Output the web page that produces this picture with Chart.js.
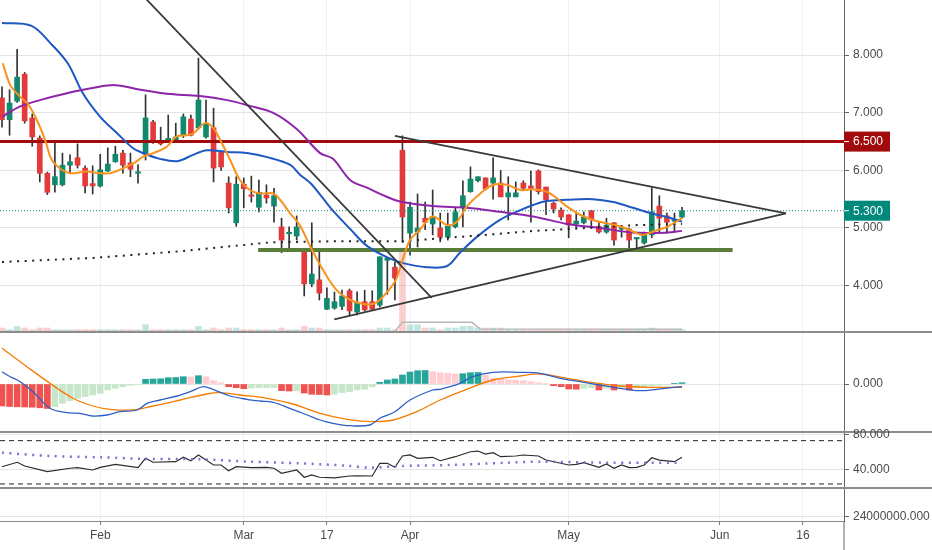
<!DOCTYPE html>
<html lang="en">
<head>
    <meta charset="UTF-8">
    <title>Price, MACD and RSI</title>
    <script src="https://cdn.jsdelivr.net/npm/chart.js"></script>
    <style>
        body {
            margin: 0;
            background: #ffffff;
        }
        #wrap {
            position: relative;
            width: 932px;
            height: 550px;
            overflow: hidden;
        }
        canvas {
            display: block;
            position: absolute;
            left: 0;
        }
        #mainChart { top: 0; }
        #macdChart { top: 333px; }
        #rsiChart  { top: 423px; }
        #volChart  { top: 489px; }
    </style>
</head>
<body>
    <div id="wrap">
        <canvas id="mainChart" width="932" height="333"></canvas>
        <canvas id="macdChart" width="932" height="100"></canvas>
        <canvas id="rsiChart" width="932" height="66"></canvas>
        <canvas id="volChart" width="932" height="61"></canvas>
    </div>

    <script>
        // daily candles, one per trading day (index 0 = first visible bar)
        const opens  = [7.26,6.88,7.20,7.67,6.91,6.56,5.95,5.75,5.75,6.09, 6.22,6.04,5.77,5.73,5.99,6.15,6.30,6.13,5.95,6.28,
                        6.84,6.49,6.53,6.53,6.61,6.89,6.74,6.58,6.74,6.32, 5.78,5.09,5.76,5.56,5.36,5.57,5.38,5.02,4.90,4.86,
                        4.58,4.03,4.10,3.59,3.61,3.64,3.91,3.54,3.72,3.72, 3.66,4.44,4.32,6.35,4.91,4.93,5.17,5.07,5.00,4.84,
                        5.02,5.36,5.63,5.82,5.87,5.78,5.78,5.54,5.54,5.78, 5.73,5.99,5.71,5.43,5.31,5.23,5.07,5.09,5.30,5.03,
                        4.93,5.09,4.98,4.98,4.81,4.74,4.88,5.38,5.21,5.12, 5.19];
        const highs  = [7.45,7.40,8.10,7.70,6.98,6.60,5.97,6.48,6.30,6.27, 6.46,6.08,6.08,6.28,6.39,6.42,6.35,6.30,6.10,7.31,
                        6.87,6.75,6.96,6.82,6.98,6.96,7.95,7.22,7.08,6.32, 5.89,5.89,5.87,5.90,5.83,5.75,5.69,5.17,5.02,5.21,
                        4.58,5.09,4.63,3.96,3.89,3.92,3.94,3.89,3.92,3.91, 4.50,4.48,4.41,6.60,5.45,5.59,5.45,5.66,5.26,5.26,
                        5.36,5.82,6.06,5.89,5.87,6.22,6.00,5.89,5.80,5.82, 5.99,6.01,5.71,5.45,5.35,5.23,5.26,5.28,5.31,5.09,
                        5.17,5.10,5.03,5.00,4.83,4.93,5.70,5.56,5.26,5.26, 5.36];
        const lows   = [6.75,6.61,7.18,6.82,6.42,5.80,5.58,5.62,5.73,5.95, 6.04,5.61,5.59,5.71,5.98,6.14,5.95,5.89,5.78,6.18,
                        6.47,6.44,6.52,6.52,6.57,6.60,6.72,6.56,5.80,6.00, 5.26,5.03,5.35,5.45,5.28,5.43,5.10,4.57,4.65,4.79,
                        3.82,3.98,3.75,3.58,3.59,3.58,3.49,3.49,3.56,3.58, 3.63,3.85,3.75,4.75,4.53,4.67,4.97,4.88,4.76,4.79,
                        5.00,5.02,5.62,5.80,5.66,5.50,5.54,5.14,5.54,5.66, 5.10,5.59,5.23,5.26,5.14,4.83,5.00,5.07,5.00,4.91,
                        4.91,4.70,4.84,4.62,4.65,4.72,4.83,4.93,4.91,4.93, 5.17];
        const closes = [6.88,7.17,7.62,6.86,6.58,5.95,5.62,5.89,6.09,6.15, 6.09,5.73,5.73,6.01,6.11,6.28,6.09,6.02,5.96,6.91,
                        6.49,6.46,6.55,6.58,6.93,6.61,7.22,6.82,6.04,6.06, 5.35,5.76,5.68,5.55,5.62,5.52,5.56,4.79,4.91,5.02,
                        4.03,4.20,3.87,3.78,3.72,3.82,3.56,3.70,3.58,3.59, 4.50,4.48,4.13,5.19,5.36,5.00,5.10,5.20,4.84,5.03,
                        5.28,5.56,5.85,5.89,5.68,5.87,5.54,5.61,5.61,5.69, 5.69,5.63,5.49,5.33,5.19,5.05,5.12,5.19,5.14,4.93,
                        5.05,4.79,5.00,4.79,4.83,4.91,5.28,5.17,5.10,5.13, 5.30];
        const volumes = [3,2,4,3,2,3,3,2,2,2, 2,2,2,2,2,2,2,2,2,5, 2,2,2,2,2,2,4,2,3,2, 3,3,2,2,2,2,2,3,2,2,
                         4,3,3,2,2,2,2,2,2,2, 3,3,2,51,5,5,3,3,2,3, 3,4,4,3,3,3,3,2,2,2, 2,2,2,2,2,2,2,2,2,2,
                         2,2,2,2,2,2,3,2,2,2, 2];
        const volMaX = [0, 52, 53, 62.2, 63.3, 90];
        const volMaY = [0.9, 0.9, 6.4, 6.4, 2.4, 2.2];

        // moving averages (bar index, price)
        const fastX = [0.1,1.1,2.4,3.5,4.6,5.7,6.6,7.9,9.0,11.2,13.0,14.3,15.6,17.4,18.7,20.0,21.8,23.1,24.4,25.3,
                       26.9,28.0,29.1,30.2,31.5,32.8,34.1,35.9,36.8,38.1,39.4,40.8,42.5,44.3,46.1,47.8,49.0,50.0,52.0,53.1,
                       54.0,55.3,57.0,58.9,60.2,61.5,63.3,65.0,66.8,68.6,70.3,72.1,73.4,74.8,76.5,78.2,80.1,81.8,83.5,84.8,
                       86.2,88.0,90.0];
        const fastY = [7.86,7.48,7.28,7.14,6.88,6.53,6.18,6.01,5.95,5.98,5.95,5.95,6.01,6.12,6.24,6.30,6.41,6.59,6.61,6.64,
                       6.82,6.73,6.47,6.18,5.83,5.66,5.60,5.60,5.49,5.26,5.05,4.68,4.27,3.92,3.75,3.68,3.68,3.75,4.07,4.48,
                       4.79,4.97,5.20,5.05,5.11,5.37,5.60,5.75,5.75,5.66,5.67,5.63,5.52,5.37,5.23,5.14,5.08,5.03,4.94,4.88,
                       4.94,5.02,5.17];
        const midX = [0,3.9,6.4,8.7,10.7,13,15.2,17.3,18.7,20.9,23.2,25.3,27.1,29.8,32.4,35.1,38.1,39.4,40.8,42.1,
                      43.8,46.1,48.3,51.0,53.1,56.2,58.9,60.6,62.9,65.9,68.6,70.3,72.1,74.8,78.2,80.9,83.5,85.8,88.0,90.0];
        const midY = [8.56,8.51,8.21,7.86,7.34,6.93,6.65,6.39,6.30,6.20,6.16,6.27,6.35,6.32,6.30,6.23,6.10,5.93,5.78,5.58,
                      5.30,4.98,4.69,4.49,4.39,4.32,4.34,4.57,4.85,5.14,5.31,5.40,5.47,5.49,5.50,5.45,5.35,5.26,5.19,5.11];
        const slowX = [0,2.4,5,8.6,12,15,18.3,21.8,26.2,29.8,32.8,35.9,39.0,42.1,43.8,46.1,48.3,50.4,52.7,57,
                       61.5,65.9,70.3,74.8,79.1,83.5,88,90];
        const slowY = [6.93,7.11,7.22,7.34,7.43,7.48,7.40,7.33,7.29,7.22,7.12,7.00,6.72,6.30,6.20,5.83,5.70,5.57,5.46,5.38,
                       5.35,5.28,5.20,5.07,5.00,4.92,4.92,4.95];
        const longX = [0,12,24,35.5,44,53,61,66.8,70.3,74.8,84,90];
        const longY = [4.41,4.48,4.60,4.75,4.77,4.77,4.85,4.91,4.95,4.98,5.05,5.07];

        // drawn levels and trend lines (bar index, price)
        const resistLevel = 6.5;
        const lastPrice = 5.3;
        const supportLevel = 4.62;
        const supportSpan = [33.9, 96.7];
        const downTrend = [[17, 9.26], [56.87, 3.785]];
        const wedgeTop = [[52.0, 6.60], [103.76, 5.255]];
        const wedgeBottom = [[43.98, 3.415], [103.76, 5.255]];

        // MACD
        const macdX = [0,1.1,2.4,4.1,6.35,8.6,10.3,12,13.9,15.6,17.9,19.2,20.9,23.2,24.9,26.6,27.9,30.2,32.4,34.1,
                       35.9,38.1,40.4,42.1,43.8,46.1,48.7,50,52,54,57,58,59.3,60.6,62.3,65,68.6,71.2,73.9,76.5,
                       79.1,81.8,84.4,86.7,88.8,90];
        const macdY = [0.123,0.073,0.023,-0.077,-0.243,-0.287,-0.293,-0.32,-0.31,-0.277,-0.26,-0.193,-0.16,-0.12,-0.077,-0.027,-0.053,-0.12,-0.153,-0.17,
                       -0.183,-0.243,-0.31,-0.36,-0.393,-0.417,-0.41,-0.343,-0.277,-0.16,-0.06,-0.053,-0.027,0.007,0.073,0.117,0.117,0.107,0.057,0.023,
                       -0.01,-0.043,-0.067,-0.053,-0.033,-0.027];
        const signalX = [0,3.3,6.35,9.4,12,14.3,17.3,20,23.6,27.1,28.8,31.5,35.1,38.5,42.1,45.7,49.1,51.8,54.9,58,
                         61.5,65,68.6,71.2,74.8,78.2,81.8,85.4,90];
        const signalY = [0.357,0.173,0.007,-0.143,-0.22,-0.253,-0.26,-0.22,-0.16,-0.10,-0.087,-0.11,-0.143,-0.20,-0.293,-0.353,-0.377,-0.36,-0.277,-0.16,
                         -0.053,0.04,0.08,0.10,0.057,0.013,-0.02,-0.033,-0.033];
        const macdHist = [-0.22,-0.225,-0.228,-0.23,-0.232,-0.238,-0.245,-0.228,-0.193,-0.167,
                          -0.143,-0.127,-0.11,-0.093,-0.06,-0.043,-0.027,-0.013,-0.003,0.047,
                          0.05,0.052,0.063,0.065,0.073,0.07,0.083,0.073,0.033,0.013,
                          -0.027,-0.037,-0.047,-0.04,-0.037,-0.036,-0.035,-0.067,-0.07,-0.068,
                          -0.09,-0.103,-0.105,-0.11,-0.103,-0.087,-0.077,-0.06,-0.053,-0.027,
                          0.017,0.04,0.05,0.09,0.12,0.133,0.135,0.123,0.113,0.107,
                          0.10,0.103,0.113,0.115,0.09,0.057,0.047,0.04,0.038,0.033,
                          0.023,0.013,0.005,-0.017,-0.027,-0.05,-0.052,-0.043,-0.037,-0.06,
                          -0.043,-0.06,-0.033,-0.06,-0.033,-0.027,-0.02,-0.013,-0.01,0.007,
                          0.013];

        // RSI
        const rsiX = [0,2,3,6,9,10,12,13,15,18,19,20,23,24,25,26,28,29,30,31,33,35,36,37,39,40,41,42,44,46,
                      47,49,50,51,52,53,54,55,57,58,60,62,63,64,65,66,68,69,71,72,75,76,77,79,80,81,82,83,84,85,
                      86,87,89,90];
        const rsiY = [43.0,48.2,43.8,37.2,41.2,41.9,39.2,42.3,45.8,41.9,52.8,48.2,48.9,54.0,50.0,56.7,45.0,45.0,38.4,43.0,
                      41.9,42.3,41.2,35.3,39.2,30.7,33.4,30.7,29.9,32.2,32.5,32.2,47.0,47.0,42.3,55.5,56.7,52.8,54.0,50.0,
                      54.7,60.5,61.3,57.8,59.4,54.7,55.5,56.7,55.5,50.8,45.0,45.8,47.7,42.3,46.2,41.2,45.0,41.9,42.3,45.0,
                      53.5,50.8,48.9,54.0];
        const rsiMaX = [0,6.4,13,19.6,26.2,32.8,39.4,45.6,48.7,52.7,59.3,66.8,71.2,80.0,90];
        const rsiMaY = [59.4,55.5,54.0,52.0,51.7,48.9,47.0,44.2,41.9,43.8,45.0,47.7,48.9,47.7,47.7];
        const rsiBands = [73.4, 22.9];

        // axes
        const tickIdx = [13, 32, 43, 54, 75, 95, 106];
        const tickLbl = ['Feb', 'Mar', '17', 'Apr', 'May', 'Jun', '16'];
        const priceTicks = [4, 5, 6, 7, 8];
        const macdTicks = [0];
        const rsiTicks = [40, 80];
        const volTicks = [24000000];

        const X_MIN = -0.265, X_MAX = 111.44;
        const UP = '#12896d', DOWN = '#e33b3b';
        const FONT = { family: 'Liberation Sans', size: 12 };
        Chart.defaults.font.family = 'Liberation Sans';

        const pts = (xs, ys) => xs.map((x, i) => ({ x: x, y: ys[i] }));
        const seg = (a) => a.map(p => ({ x: p[0], y: p[1] }));
        const flat = (v, from, to) => [{ x: from, y: v }, { x: to, y: v }];

        function xAxis(withLabels) {
            return {
                type: 'linear', min: X_MIN, max: X_MAX, offset: false,
                afterBuildTicks: s => { s.ticks = tickIdx.map(v => ({ value: v })); },
                afterFit: s => { s.height = withLabels ? 29 : 0; s.paddingLeft = 0; s.paddingRight = 0; },
                grid: { color: '#f0f1f4', offset: false, drawTicks: withLabels, tickLength: 4, tickColor: '#777' },
                border: { display: withLabels, color: '#8a8a8a' },
                ticks: {
                    display: withLabels, autoSkip: false, maxRotation: 0, padding: 3,
                    color: '#4a4a4a', font: FONT,
                    callback: (v, i) => tickLbl[i]
                }
            };
        }

        function yAxis(min, max, ticks) {
            return {
                type: 'linear', position: 'right', min: min, max: max, beginAtZero: false,
                afterBuildTicks: s => { s.ticks = ticks.map(v => ({ value: v })); },
                afterFit: s => { s.width = 88; s.paddingTop = 0; s.paddingBottom = 0; },
                grid: { color: '#e4e4e4', tickLength: 5, tickColor: '#666' },
                border: { color: '#666' },
                ticks: { padding: 4, color: '#4a4a4a', font: FONT, callback: v => Number(v).toFixed(3) }
            };
        }

        function line(data, color, width, extra) {
            return Object.assign({
                type: 'line', data: data, borderColor: color, borderWidth: width,
                pointRadius: 0, fill: false, tension: 0, clip: 0
            }, extra || {});
        }

        function opts(scales, padTop) {
            return {
                responsive: false,
                animation: false,
                events: [],
                layout: { padding: { top: padTop || 0, left: 0, right: 0, bottom: 0 } },
                plugins: { legend: { display: false }, tooltip: { enabled: false } },
                scales: scales
            };
        }

        const paneSep = {
            id: 'paneSep',
            afterDraw(chart) {
                const c = chart.ctx;
                c.save();
                c.strokeStyle = '#8c8c8c';
                c.lineWidth = 2;
                c.beginPath();
                c.moveTo(0, chart.height - 1);
                c.lineTo(chart.width, chart.height - 1);
                c.stroke();
                c.restore();
            }
        };

        const tagValues = [resistLevel, lastPrice];
        const tagColors = ['#a20b0b', '#00897b'];
        const priceTags = {
            id: 'priceTags',
            afterDraw(chart) {
                const y = chart.scales.y, c = chart.ctx;
                c.save();
                tagValues.forEach((v, k) => {
                    const py = y.getPixelForValue(v);
                    c.fillStyle = tagColors[k];
                    c.fillRect(y.left, py - 10, 46, 20);
                    c.strokeStyle = '#ffffff';
                    c.lineWidth = 1;
                    c.beginPath();
                    c.moveTo(y.left, py);
                    c.lineTo(y.left + 5, py);
                    c.stroke();
                    c.fillStyle = '#ffffff';
                    c.font = '12px "Liberation Sans"';
                    c.textBaseline = 'middle';
                    c.fillText(v.toFixed(3), y.left + 9, py + 0.5);
                });
                c.restore();
            }
        };

        // ---- price pane ----
        const candleColors = closes.map((c, i) => c >= opens[i] ? UP : DOWN);
        const volColors = closes.map((c, i) => c >= opens[i] ? 'rgba(38,166,154,0.28)' : 'rgba(239,83,80,0.28)');

        new Chart(document.getElementById('mainChart'), {
            type: 'line',
            data: {
                datasets: [
                    { type: 'bar', yAxisID: 'vol', order: 10, grouped: false, barThickness: 6,
                      data: volumes.map((v, i) => ({ x: i, y: v })), backgroundColor: volColors },
                    line(pts(volMaX, volMaY), '#b8b8b8', 1.5, { yAxisID: 'vol', order: 9 }),
                    { type: 'bar', order: 7, grouped: false, barThickness: 1,
                      data: highs.map((h, i) => ({ x: i, y: [lows[i], h] })), backgroundColor: '#333333' },
                    { type: 'bar', order: 6, grouped: false, barThickness: 5, minBarLength: 1.5,
                      data: closes.map((c, i) => ({ x: i, y: [opens[i], c] })), backgroundColor: candleColors },
                    line(flat(lastPrice, X_MIN, X_MAX), '#16907c', 1, { order: 5, borderDash: [1, 2] }),
                    line(flat(supportLevel, supportSpan[0], supportSpan[1]), '#5b7d3c', 4, { order: 5 }),
                    line(flat(resistLevel, X_MIN, X_MAX), '#a20b0b', 3, { order: 4 }),
                    line(pts(longX, longY), '#222222', 2, { order: 3, borderDash: [2, 5.56] }),
                    line(pts(slowX, slowY), '#8e24aa', 2, { order: 3, tension: 0.35 }),
                    line(pts(midX, midY), '#1e58c2', 2, { order: 3, tension: 0.35 }),
                    line(pts(fastX, fastY), '#f7931e', 2, { order: 2, tension: 0.35 }),
                    line(seg(downTrend), '#3a3a3a', 1.8, { order: 1 }),
                    line(seg(wedgeTop), '#3a3a3a', 1.8, { order: 1 }),
                    line(seg(wedgeBottom), '#3a3a3a', 1.8, { order: 1 })
                ]
            },
            options: opts({
                x: xAxis(false),
                y: yAxis(3.177, 8.958, priceTicks),
                vol: { type: 'linear', display: false, min: 0, max: 200 }
            }),
            plugins: [paneSep, priceTags]
        });

        // ---- MACD pane ----
        const histColors = macdHist.map((v, i) => {
            const prev = i > 0 ? macdHist[i - 1] : v + 0.001;
            if (v >= 0) return v >= prev ? '#26a69a' : '#ffcdd2';
            return v <= prev ? '#ef5350' : '#c8e6c9';
        });

        new Chart(document.getElementById('macdChart'), {
            type: 'line',
            data: {
                datasets: [
                    { type: 'bar', order: 5, grouped: false, barThickness: 6,
                      data: macdHist.map((v, i) => ({ x: i, y: v })), backgroundColor: histColors },
                    line(pts(signalX, signalY), '#f57c00', 1.3, { order: 2, tension: 0.35 }),
                    line(pts(macdX, macdY), '#2f5fc4', 1.3, { order: 1, tension: 0.35 })
                ]
            },
            options: opts({ x: xAxis(false), y: yAxis(-0.49, 0.51, macdTicks) }),
            plugins: [paneSep]
        });

        // ---- RSI pane (canvas starts 10px higher so the top label is not cut) ----
        new Chart(document.getElementById('rsiChart'), {
            type: 'line',
            data: {
                datasets: [
                    line(flat(rsiBands[0], X_MIN, X_MAX), '#222222', 1, { borderDash: [5, 4] }),
                    line(flat(rsiBands[1], X_MIN, X_MAX), '#222222', 1, { borderDash: [5, 4] }),
                    line(pts(rsiMaX, rsiMaY), '#7d72d2', 2.5, { borderDash: [2, 5.56], tension: 0.3 }),
                    line(pts(rsiX, rsiY), '#2b2b2b', 1.2)
                ]
            },
            options: opts({ x: xAxis(false), y: yAxis(17.03, 82.33, rsiTicks) }, 10),
            plugins: [paneSep]
        });

        // ---- lower pane with date axis ----
        const axisTail = {
            id: 'axisTail',
            afterDraw(chart) {
                const c = chart.ctx, a = chart.chartArea;
                c.save();
                c.strokeStyle = '#666';
                c.lineWidth = 1;
                c.beginPath();
                c.moveTo(a.right, a.bottom);
                c.lineTo(a.right, chart.height);
                c.stroke();
                c.restore();
            }
        };

        new Chart(document.getElementById('volChart'), {
            type: 'line',
            data: { datasets: [{ data: [] }] },
            options: opts({ x: xAxis(true), y: yAxis(0, 178600000, volTicks) }),
            plugins: [axisTail]
        });
    </script>
</body>
</html>
